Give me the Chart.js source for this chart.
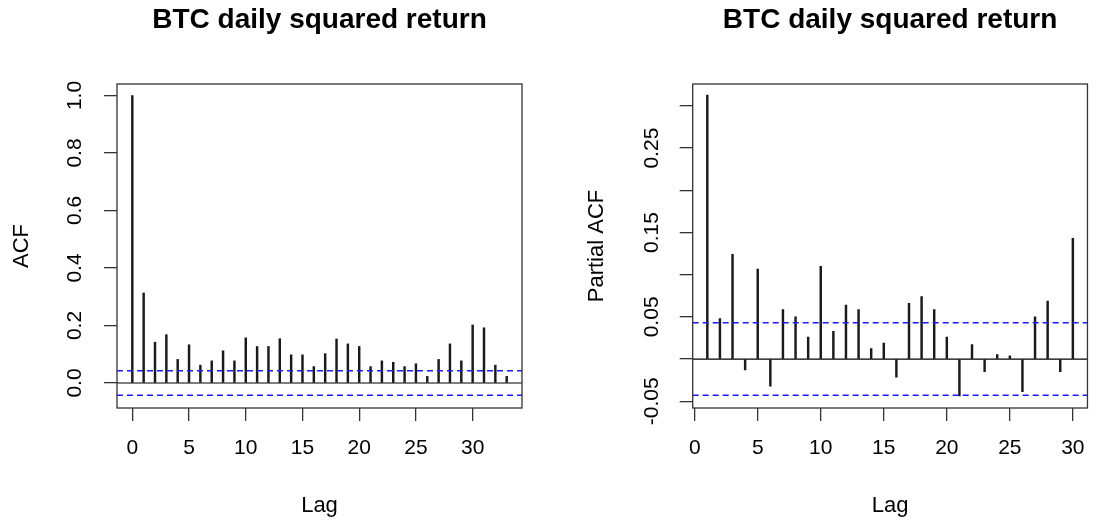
<!DOCTYPE html>
<html><head><meta charset="utf-8">
<script src="https://cdn.jsdelivr.net/npm/chart.js@4.4.1/dist/chart.umd.min.js"></script>
<style>
html,body{margin:0;padding:0;background:#fff;}
#wrap{position:relative;width:1100px;height:522px;background:#fff;}
canvas{position:absolute;top:0;}
</style></head><body>
<div id="wrap">
<canvas id="acf" width="550" height="522" style="left:0"></canvas>
<canvas id="pacf" width="550" height="522" style="left:550px"></canvas>
</div>
<script>
const chartTitle = "BTC daily squared return";
const xAxisTitle = "Lag";
const acfAxisTitle = "ACF";
const pacfAxisTitle = "Partial ACF";

const acfLags = [0,1,2,3,4,5,6,7,8,9,10,11,12,13,14,15,16,17,18,19,20,21,22,23,24,25,26,27,28,29,30,31,32,33];
const acfValues = [1.0,0.313,0.142,0.168,0.082,0.133,0.062,0.077,0.112,0.077,0.157,0.127,0.127,0.154,0.098,0.098,0.057,0.102,0.153,0.136,0.127,0.057,0.077,0.072,0.057,0.067,0.023,0.082,0.136,0.077,0.202,0.192,0.062,0.023];

const pacfLags = [1,2,3,4,5,6,7,8,9,10,11,12,13,14,15,16,17,18,19,20,21,22,23,24,25,26,27,28,29,30];
const pacfValues = [0.313,0.048,0.124,-0.013,0.1065,-0.032,0.0585,0.050,0.026,0.110,0.033,0.064,0.0585,0.0125,0.019,-0.0216,0.066,0.074,0.0585,0.026,-0.0437,0.0173,-0.015,0.0054,0.0038,-0.0386,0.050,0.0688,-0.015,0.143];

const confLimit = 0.043;

const acfXTicks = [0,5,10,15,20,25,30];
const acfYTicks = [0,0.2,0.4,0.6,0.8,1.0];
const acfYLabels = ["0.0","0.2","0.4","0.6","0.8","1.0"];

const pacfXTicks = [0,5,10,15,20,25,30];
const pacfYTicks = [-0.05,0,0.05,0.10,0.15,0.20,0.25,0.30];
const pacfYLabels = ["-0.05","","0.05","","0.15","","0.25",""];

const FONT = "'Liberation Sans', Arial, Helvetica, sans-serif";

function makeChart(id, cfg) {
  const xr = cfg.xRange, yr = cfg.yRange;
  const hline = (y) => [{x: xr[0], y: y}, {x: xr[1], y: y}];
  const boxPlugin = {
    id: 'boxAndLabels',
    afterDraw(chart) {
      const ctx = chart.ctx, a = chart.chartArea;
      ctx.save();
      ctx.strokeStyle = '#333';
      ctx.lineWidth = 1.3;
      ctx.strokeRect(a.left, a.top, a.right - a.left, a.bottom - a.top);
      const ys = chart.scales.y;
      ctx.fillStyle = '#000';
      ctx.font = '21px ' + FONT;
      ctx.textAlign = 'center';
      ctx.textBaseline = 'middle';
      ys.ticks.forEach((t) => {
        const lab = cfg.yLabels[cfg.yTicks.indexOf(t.value)];
        if (!lab) return;
        const py = ys.getPixelForValue(t.value);
        ctx.save();
        ctx.translate(cfg.yLabelX, py);
        ctx.rotate(-Math.PI / 2);
        ctx.fillText(lab, 0, 0);
        ctx.restore();
      });
      ctx.restore();
    }
  };
  return new Chart(document.getElementById(id), {
    type: 'bar',
    data: {
      datasets: [
        { type: 'line', data: hline(0), borderColor: '#000', borderWidth: 1.2, pointRadius: 0, order: 0 },
        { type: 'line', data: hline(confLimit), borderColor: '#1a1aff', borderWidth: 1.5, borderDash: [6, 4], pointRadius: 0, order: 0 },
        { type: 'line', data: hline(-confLimit), borderColor: '#1a1aff', borderWidth: 1.5, borderDash: [6, 4], pointRadius: 0, order: 0 },
        { type: 'bar', data: cfg.lags.map((l, i) => ({x: l, y: cfg.values[i]})), backgroundColor: '#1a1a1a', borderWidth: 0, barThickness: 1.8, order: 1 }
      ]
    },
    options: {
      responsive: false,
      animation: false,
      events: [],
      devicePixelRatio: 1,
      layout: { padding: { left: 0, right: cfg.padRight, top: 0, bottom: 0 } },
      plugins: {
        legend: { display: false },
        tooltip: { enabled: false },
        title: {
          display: true, text: chartTitle, fullSize: false, color: '#000',
          font: { family: FONT, size: 28, weight: 'bold' },
          padding: { top: 3.5, bottom: 46.9 }
        }
      },
      scales: {
        x: {
          type: 'linear', min: xr[0], max: xr[1], offset: false,
          afterBuildTicks: (s) => { s.ticks = cfg.xTicks.map(v => ({value: v})); },
          afterFit: (s) => { s.height = 114; },
          ticks: { color: '#000', font: { family: FONT, size: 21 }, padding: 15, maxRotation: 0, autoSkip: false, callback: (v) => String(v) },
          grid: { display: true, drawOnChartArea: false, drawTicks: true, tickLength: 13, color: '#333', lineWidth: 1.3, offset: false },
          border: { display: false },
          title: { display: true, text: xAxisTitle, color: '#000', font: { family: FONT, size: 22 }, padding: { top: 0, bottom: 2.8 } }
        },
        y: {
          type: 'linear', min: yr[0], max: yr[1],
          afterBuildTicks: (s) => { s.ticks = cfg.yTicks.map(v => ({value: v})); },
          afterFit: (s) => { s.width = cfg.yWidth; },
          ticks: { display: false },
          grid: { display: true, drawOnChartArea: false, drawTicks: true, tickLength: 13, color: '#333', lineWidth: 1.3 },
          border: { display: false },
          title: { display: true, text: cfg.yTitle, color: '#000', font: { family: FONT, size: 22 }, padding: { top: cfg.yTitlePad, bottom: 0 } }
        }
      }
    },
    plugins: [boxPlugin]
  });
}

makeChart('acf', {
  lags: acfLags, values: acfValues, xTicks: acfXTicks, yTicks: acfYTicks, yLabels: acfYLabels,
  xRange: [-1.35, 34.35], yRange: [-0.087, 1.04], yTitle: acfAxisTitle,
  padRight: 28, yWidth: 117, yLabelX: 75, yTitlePad: 8.5
});
makeChart('pacf', {
  lags: pacfLags, values: pacfValues, xTicks: pacfXTicks, yTicks: pacfYTicks, yLabels: pacfYLabels,
  xRange: [-0.16, 31.16], yRange: [-0.058, 0.326], yTitle: pacfAxisTitle,
  padRight: 2.3, yWidth: 142.7, yLabelX: 102, yTitlePad: 33.8
});
</script>
</body></html>
